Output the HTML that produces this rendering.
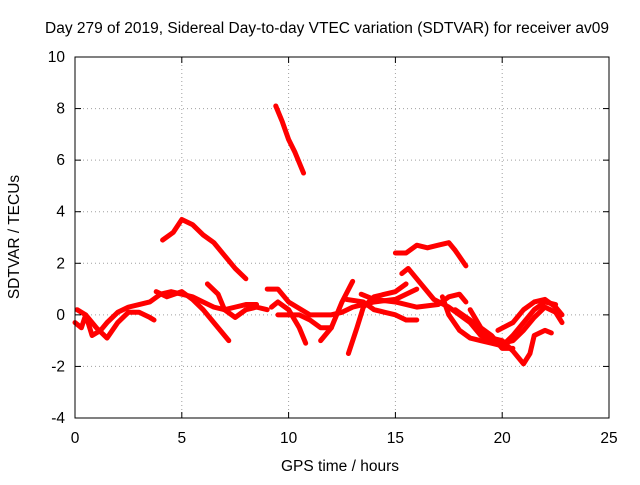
<!DOCTYPE html>
<html><head><meta charset="utf-8"><style>
body{margin:0;background:#fff}
svg text{font-family:"Liberation Sans",sans-serif;font-size:15.5px;fill:#000}
</style></head><body>
<svg id="c" width="640" height="480" xmlns="http://www.w3.org/2000/svg">
<text x="327" y="33" text-anchor="middle">Day 279 of 2019, Sidereal Day-to-day VTEC variation (SDTVAR) for receiver av09</text>
<text x="340" y="471" text-anchor="middle">GPS time / hours</text>
<text transform="translate(19,237) rotate(-90)" text-anchor="middle">SDTVAR / TECUs</text>
<g id="grid"></g>
<g id="marks"></g>
<rect x="75" y="57" width="534" height="361" fill="none" stroke="#000"/>
<g id="ticks"></g>
</svg>
<script>
const xTicks=[0,5,10,15,20,25];
const yTicks=[-4,-2,0,2,4,6,8,10];
const track1=[[9.4,8.1],[9.7,7.5],[10.0,6.8],[10.3,6.3],[10.7,5.5]];
const track2=[[4.1,2.9],[4.6,3.2],[5.0,3.7],[5.5,3.5],[6.0,3.1],[6.5,2.8],[7.0,2.3],[7.5,1.8],[8.0,1.4]];
const track3=[[15.0,2.4],[15.5,2.4],[16.0,2.7],[16.5,2.6],[17.0,2.7],[17.5,2.8],[17.8,2.5],[18.3,1.9]];
const track4=[[15.3,1.6],[15.6,1.8],[16.2,1.2],[16.8,0.6],[17.5,0.3],[18.0,0.0],[18.5,-0.3],[19.0,-0.8],[19.5,-1.0]];
const track5=[[0,-0.3],[0.3,-0.5],[0.5,0],[0.8,-0.8],[1.2,-0.6],[1.5,-0.3],[2,0.1],[2.5,0.3],[3,0.4],[3.5,0.5],[4,0.8],[4.5,0.9],[5,0.8],[5.5,0.7],[6,0.5],[6.5,0.3],[7,0.2],[7.5,0.3],[8,0.4],[8.5,0.4]];
const track6=[[0.1,0.2],[0.5,0],[1,-0.5],[1.5,-0.9],[2,-0.3],[2.5,0.1],[3,0.1],[3.5,-0.1],[3.7,-0.2]];
const track7=[[3.8,0.9],[4.3,0.7],[5,0.9],[5.5,0.6],[6.0,0.2],[6.5,-0.3],[7.0,-0.8],[7.2,-1.0]];
const track8=[[6.2,1.2],[6.7,0.8],[7,0.2],[7.5,-0.1],[8,0.2],[8.5,0.3],[9,0.2]];
const track9=[[9.2,0.3],[9.5,0.5],[10,0.2],[10.5,-0.5],[10.8,-1.1]];
const track10=[[9.0,1.0],[9.5,1.0],[10,0.5],[11,0.0],[12,0.0],[12.5,0.1],[13,0.3],[14,0.5],[15,0.6],[16,1.0]];
const track11=[[9.5,0.0],[10.5,0.0],[11,-0.2],[11.5,-0.5],[12,-0.5]];
const track12=[[11.5,-1.0],[12,-0.5],[12.5,0.5],[13,1.3]];
const track13=[[12.8,-1.5],[13.2,-0.5],[13.5,0.3],[14,0.7],[14.5,0.8],[15,0.9],[15.5,1.2]];
const track14=[[12.7,0.6],[13.5,0.5],[14,0.2],[14.5,0.1],[15,0.0],[15.5,-0.2],[16,-0.2]];
const track15=[[13.4,0.8],[14,0.6],[15,0.5],[16,0.3],[17,0.4],[17.5,0.7],[18,0.8],[18.3,0.5]];
const track16=[[17.2,0.7],[17.5,0.0],[18,-0.6],[18.5,-0.9],[19,-1.0],[19.5,-1.1],[20,-1.2],[20.5,-0.8],[21,-0.3],[21.5,0.2],[22,0.5],[22.5,0.4]];
const track17=[[17.8,0.2],[18.5,-0.2],[19,-0.6],[19.5,-0.9],[20,-1.0],[20.5,-1.4],[21,-1.9],[21.3,-1.5],[21.5,-0.8],[22,-0.6],[22.3,-0.7]];
const track18=[[19.8,-0.6],[20.5,-0.3],[21,0.2],[21.5,0.5],[22,0.6],[22.5,0.3],[22.8,0.0]];
const track19=[[20,-1.1],[20.5,-1.0],[21,-0.6],[21.5,-0.1],[22,0.3],[22.5,0.1],[22.8,-0.3]];
const track20=[[18.5,0.2],[19,-0.5],[19.5,-0.8],[20,-1.3],[20.5,-1.3]];
const tracks=[track1,track2,track3,track4,track5,track6,track7,track8,track9,track10,track11,track12,track13,track14,track15,track16,track17,track18,track19,track20];

const NS="http://www.w3.org/2000/svg";
const X0=75,X1=609,Y0=418,Y1=57,xMin=0,xMax=25,yMin=-4,yMax=10;
function sx(v){return X0+(v-xMin)/(xMax-xMin)*(X1-X0);}
function sy(v){return Y0-(v-yMin)/(yMax-yMin)*(Y0-Y1);}
function mk(t,a){const e=document.createElementNS(NS,t);for(const k in a)e.setAttribute(k,a[k]);return e;}
const grid=document.getElementById('grid'),ticks=document.getElementById('ticks'),marks=document.getElementById('marks');
xTicks.forEach(v=>{
  const x=sx(v);
  if(v>xMin&&v<xMax){const g=mk('line',{x1:x,x2:x,y1:Y1,y2:Y0,stroke:'#a0a0a0','stroke-dasharray':'1,3'});
  
  grid.appendChild(g);}
  const t1=mk('line',{x1:x,x2:x,y1:Y0,y2:Y0-6,stroke:'#000'});
  
  ticks.appendChild(t1);
  const t2=mk('line',{x1:x,x2:x,y1:Y1,y2:Y1+6,stroke:'#000'});
  
  ticks.appendChild(t2);
  const l=mk('text',{x:x,y:443,'text-anchor':'middle'});l.textContent=v;
  
  ticks.appendChild(l);
});
yTicks.forEach(v=>{
  const y=sy(v);
  if(v>yMin&&v<yMax){const g=mk('line',{x1:X0,x2:X1,y1:y,y2:y,stroke:'#a0a0a0','stroke-dasharray':'1,3'});
  
  grid.appendChild(g);}
  const t1=mk('line',{x1:X0,x2:X0+6,y1:y,y2:y,stroke:'#000'});
  
  ticks.appendChild(t1);
  const t2=mk('line',{x1:X1,x2:X1-6,y1:y,y2:y,stroke:'#000'});
  
  ticks.appendChild(t2);
  const l=mk('text',{x:X0-10,y:y+5,'text-anchor':'end'});l.textContent=v;
  
  ticks.appendChild(l);
});
tracks.forEach(tr=>{
  const p=mk('polyline',{points:tr.map(d=>sx(d[0])+','+sy(d[1])).join(' '),fill:'none',stroke:'#ff0000','stroke-width':5,'stroke-linejoin':'round','stroke-linecap':'round'});
  
  
  marks.appendChild(p);
});
</script>
</body></html>
